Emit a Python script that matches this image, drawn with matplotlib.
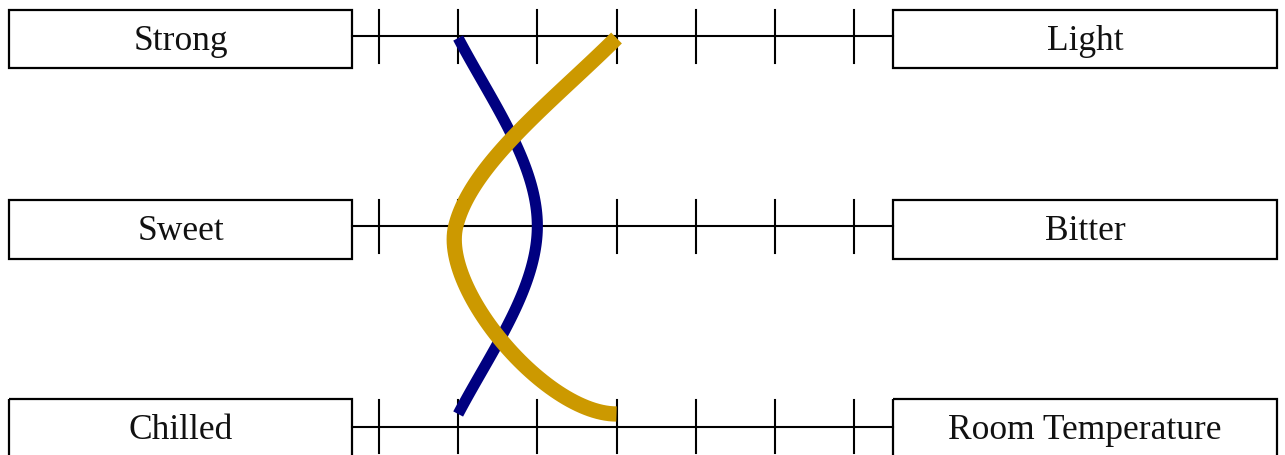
import numpy as np
import matplotlib
matplotlib.use("Agg")
from matplotlib import pyplot as plt
from matplotlib.patches import Rectangle

# scales (left pole, right pole) and the series values on a 1..7 scale
left_labels = ["Strong", "Sweet", "Chilled"]
right_labels = ["Light", "Bitter", "Room Temperature"]
n_steps = 7

blue_values = [2, 3, 2]
gold_values = [4, 1.97, 4]

BLUE = "#000080"
GOLD = "#cc9900"

# layout in pixels
W, H = 1285, 455
TICK0_PX, STEP_PX = 379, 79.17
line_y = [36, 226, 426.5]
box_top = [9.5, 200, 398.5]
curve_y = [38, 226, 414]
box_h = 58.5
left_box = (9, 352)
right_box = (893, 1277)


def px_to_val(px):
    return 1 + (px - TICK0_PX) / STEP_PX


def tangents(xs, ys, mid_lean=0.0, flat_end=False):
    # catmull-rom inside (optionally leaning), softened natural condition at the ends
    tx, ty = np.zeros_like(xs), np.zeros_like(ys)
    tx[1:-1] = (xs[2:] - xs[:-2]) / 2
    ty[1:-1] = (ys[2:] - ys[:-2]) / 2
    tx[1:-1] += mid_lean * ty[1:-1]
    tx[0] = 1.25 * (xs[1] - xs[0]) - 0.25 * tx[1]
    ty[0] = 1.25 * (ys[1] - ys[0]) - 0.25 * ty[1]
    tx[-1] = 1.25 * (xs[-1] - xs[-2]) - 0.25 * tx[-2]
    ty[-1] = 1.25 * (ys[-1] - ys[-2]) - 0.25 * ty[-2]
    if flat_end:
        ty[-1] = 0.0
    return tx, ty


def smooth_curve(vals, ys, mid_lean=0.0, flat_end=False, n=60):
    # work in pixels so both directions have the same weight
    xs = TICK0_PX + (np.asarray(vals, float) - 1) * STEP_PX
    ys = np.asarray(ys, float)
    tx, ty = tangents(xs, ys, mid_lean, flat_end)
    t = np.linspace(0, 1, n)
    h00 = 2 * t**3 - 3 * t**2 + 1
    h10 = t**3 - 2 * t**2 + t
    h01 = -2 * t**3 + 3 * t**2
    h11 = t**3 - t**2
    out_x, out_y = [], []
    for i in range(len(xs) - 1):
        out_x.append(h00 * xs[i] + h10 * tx[i] + h01 * xs[i + 1] + h11 * tx[i + 1])
        out_y.append(h00 * ys[i] + h10 * ty[i] + h01 * ys[i + 1] + h11 * ty[i + 1])
    return px_to_val(np.concatenate(out_x)), np.concatenate(out_y)


fig = plt.figure(figsize=(W / 100, H / 100), dpi=100)
ax = fig.add_axes([0, 0, 1, 1])
ax.set_xlim(px_to_val(0), px_to_val(W))
ax.set_ylim(H, 0)
ax.axis("off")

font = dict(family=["Liberation Serif", "DejaVu Serif"], fontsize=25.5, color="#111111")

for i in range(len(left_labels)):
    y = line_y[i]
    x_l0, x_l1 = px_to_val(left_box[0]), px_to_val(left_box[1])
    x_r0, x_r1 = px_to_val(right_box[0]), px_to_val(right_box[1])
    for x0, x1, lab in [(x_l0, x_l1, left_labels[i]), (x_r0, x_r1, right_labels[i])]:
        ax.add_patch(Rectangle((x0, box_top[i]), x1 - x0, box_h, fill=False,
                               edgecolor="black", linewidth=1.6, zorder=2))
        ax.text((x0 + x1) / 2, box_top[i] + 40.5, lab, ha="center", va="baseline", **font)
    ax.plot([x_l1, x_r0], [y, y], color="black", linewidth=1.5, zorder=1)
    for k in range(1, n_steps + 1):
        ax.plot([k, k], [y - 26.5, y + 26.5], color="black", linewidth=1.5, zorder=1)

bx, by = smooth_curve(blue_values, curve_y)
ax.plot(bx, by, color=BLUE, linewidth=8, solid_capstyle="butt", zorder=3)
gx, gy = smooth_curve(gold_values, curve_y, mid_lean=-0.25, flat_end=True)
ax.plot(gx, gy, color=GOLD, linewidth=11, solid_capstyle="butt", zorder=4)

fig.savefig("out.png", dpi=100)
